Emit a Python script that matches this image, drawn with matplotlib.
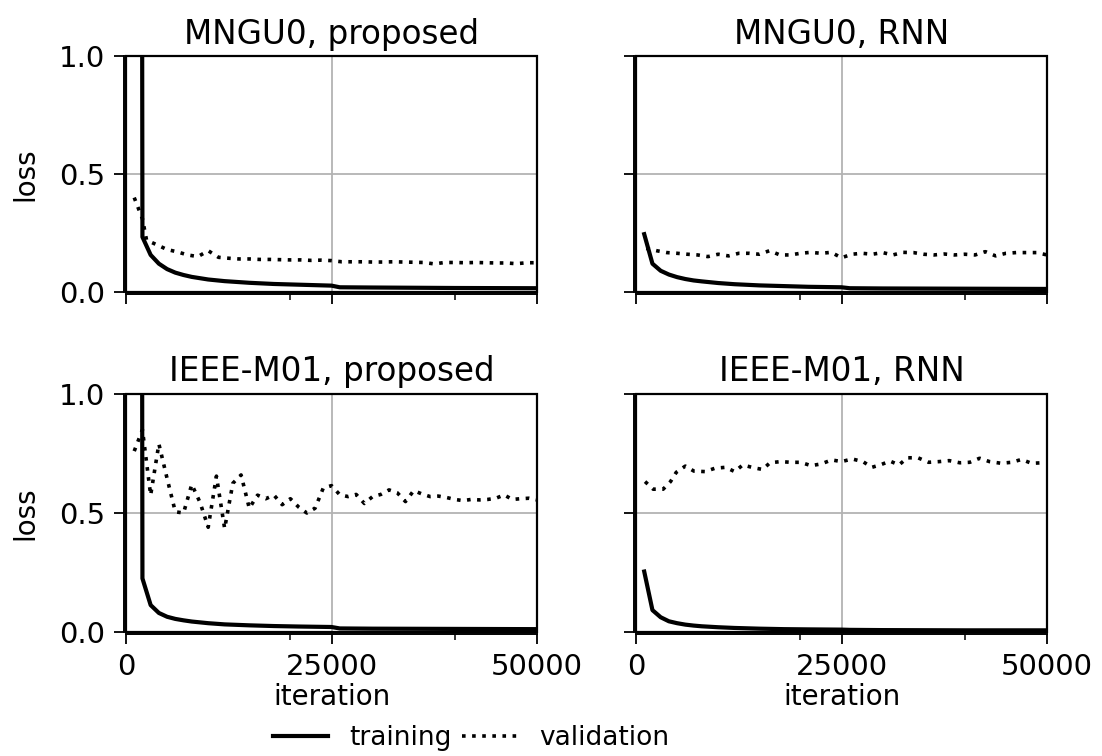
import matplotlib
matplotlib.use("Agg")
import matplotlib.pyplot as plt
from matplotlib.patches import Rectangle
from matplotlib.lines import Line2D

plt.rcParams['font.family'] = ['DejaVu Sans']

# training loss
train_it = [1000, 2000, 3000, 4000, 5000, 6000, 7000, 8000, 10000, 12000,
            15000, 18000, 21000, 25000, 26000, 30000, 40000, 50000]
mngu_prop_tr = [25.0, 0.233, 0.157, 0.12, 0.097, 0.082, 0.072, 0.064, 0.053, 0.046,
                0.039, 0.034, 0.031, 0.027, 0.020, 0.019, 0.017, 0.016]
mngu_rnn_tr = [0.245, 0.12, 0.09, 0.074, 0.063, 0.055, 0.049, 0.045, 0.038, 0.033,
               0.028, 0.025, 0.022, 0.020, 0.016, 0.015, 0.014, 0.013]
ieee_prop_tr = [25.0, 0.225, 0.113, 0.08, 0.064, 0.055, 0.049, 0.044, 0.037, 0.032,
                0.028, 0.025, 0.023, 0.021, 0.015, 0.014, 0.013, 0.012]
ieee_rnn_tr = [0.254, 0.092, 0.062, 0.045, 0.037, 0.031, 0.027, 0.024, 0.020, 0.017,
               0.014, 0.012, 0.011, 0.010, 0.009, 0.008, 0.007, 0.007]

# validation loss
val_it_1250 = [1000, 2000, 2500, 3750, 5000, 6250, 7500, 8750, 10000, 11250,
               12500, 13750, 15000, 16250, 17500, 18750, 20000, 21250, 22500, 23750,
               25000, 26250, 27500, 28750, 30000, 31250, 32500, 33750, 35000, 36250,
               37500, 38750, 40000, 41250, 42500, 43750, 45000, 46250, 47500, 48750, 50000]
mngu_prop_val = [0.40, 0.31, 0.22, 0.20, 0.18, 0.17, 0.157, 0.15, 0.175, 0.147,
                 0.143, 0.14, 0.14, 0.138, 0.138, 0.137, 0.136, 0.136, 0.134, 0.135,
                 0.133, 0.128, 0.128, 0.128, 0.127, 0.127, 0.128, 0.127, 0.126, 0.125,
                 0.119, 0.125, 0.125, 0.124, 0.125, 0.124, 0.123, 0.123, 0.12, 0.124, 0.124]

val_it_rnn = [1250, 2500, 3750, 5000, 6250, 7500, 8750, 10000, 11250, 12500,
              13750, 15000, 16250, 17500, 18750, 20000, 21250, 22500, 23750, 25000,
              26250, 27500, 28750, 30000, 31250, 32500, 33750, 35000, 36250, 37500,
              38750, 40000, 41250, 42500, 43750, 45000, 46250, 47500, 48750, 50000]
mngu_rnn_val = [0.185, 0.175, 0.167, 0.164, 0.16, 0.157, 0.15, 0.16, 0.153, 0.164,
                0.164, 0.16, 0.175, 0.157, 0.157, 0.164, 0.168, 0.164, 0.168, 0.145,
                0.16, 0.164, 0.16, 0.167, 0.157, 0.168, 0.167, 0.16, 0.157, 0.161,
                0.157, 0.16, 0.157, 0.171, 0.153, 0.164, 0.167, 0.167, 0.167, 0.157]

val_it_1000 = list(range(1000, 50001, 1000))
ieee_prop_val = [0.76, 0.85, 0.575, 0.79, 0.645, 0.505, 0.50, 0.62, 0.545, 0.44,
                 0.655, 0.435, 0.625, 0.66, 0.52, 0.575, 0.56, 0.575, 0.535, 0.56,
                 0.525, 0.50, 0.52, 0.605, 0.615, 0.577, 0.569, 0.578, 0.54, 0.569,
                 0.578, 0.597, 0.585, 0.548, 0.594, 0.58, 0.569, 0.571, 0.565, 0.557,
                 0.552, 0.557, 0.555, 0.557, 0.562, 0.576, 0.557, 0.56, 0.562, 0.555]

val_it_ieee_rnn = [1100, 2100, 3300, 4200, 4900, 6000, 7050, 8400, 9600, 10900,
                   12000, 13000, 14300, 15400, 16300, 17600, 18800, 20000, 21300, 22500,
                   23800, 25000, 26300, 27600, 28700, 29700, 30900, 32000, 33000, 34300,
                   35600, 36900, 38100, 39400, 40600, 41800, 43000, 44400, 45700, 46900,
                   48100, 49500]
ieee_rnn_val = [0.632, 0.60, 0.60, 0.632, 0.671, 0.697, 0.676, 0.674, 0.688, 0.692,
                0.674, 0.702, 0.69, 0.683, 0.711, 0.716, 0.713, 0.713, 0.699, 0.706,
                0.723, 0.716, 0.727, 0.716, 0.692, 0.702, 0.718, 0.702, 0.732, 0.732,
                0.713, 0.716, 0.72, 0.711, 0.713, 0.73, 0.716, 0.709, 0.713, 0.725,
                0.709, 0.711]

panels = [
    ("MNGU0, proposed", train_it, mngu_prop_tr, val_it_1250, mngu_prop_val),
    ("MNGU0, RNN", train_it, mngu_rnn_tr, val_it_rnn, mngu_rnn_val),
    ("IEEE-M01, proposed", train_it, ieee_prop_tr, val_it_1000, ieee_prop_val),
    ("IEEE-M01, RNN", train_it, ieee_rnn_tr, val_it_ieee_rnn, ieee_rnn_val),
]

W, H = 1102, 756
fig = plt.figure(figsize=(W / 100, H / 100), dpi=100)

# axes boxes in pixels: left, top, right, bottom
boxes = [(126, 56, 537, 292), (636, 56, 1047, 292),
         (126, 394, 537, 632), (636, 394, 1047, 632)]

dots = (0, (1, 1.8))
for i, (title, tx, ty, vx, vy) in enumerate(panels):
    l, t, r, b = boxes[i]
    ax = fig.add_axes([l / W, 1 - b / H, (r - l) / W, (b - t) / H])
    ax.plot(vx, vy, color='black', lw=2.6, linestyle=dots, zorder=3)
    ax.plot(tx, ty, color='black', lw=3.0, zorder=4)
    ax.set_xlim(0, 50000)
    ax.set_ylim(0, 1.0)
    ax.set_xticks([0, 25000, 50000])
    ax.set_xticks([20000, 40000], minor=True)
    ax.set_yticks([0, 0.5, 1.0])
    ax.grid(True, which='major', color='#b3b3b3', lw=1.3, zorder=0)
    ax.set_title(title, fontsize=23.5, pad=9)

    # outer axis lines sit just outside the box
    ax.spines['left'].set_position(('outward', 1.3))
    ax.spines['bottom'].set_position(('outward', 1.3))
    for s in ax.spines.values():
        s.set_linewidth(1.4)
    ax.add_patch(Rectangle((0, 0), 1, 1, transform=ax.transAxes, fill=False,
                           lw=1.6, edgecolor='black', clip_on=False, zorder=5))

    ax.tick_params(which='major', direction='out', length=7.5, width=1.3,
                   labelsize=21, pad=6)
    ax.tick_params(which='minor', direction='out', length=4, width=1.1)

    if i % 2 == 0:
        ax.set_yticklabels(["0.0", "0.5", "1.0"])
        ax.set_ylabel("loss", fontsize=20, labelpad=14)
    else:
        ax.set_yticklabels([])
    if i >= 2:
        ax.set_xticklabels(["0", "25000", "50000"])
        ax.set_xlabel("iteration", fontsize=20, labelpad=2)
    else:
        ax.set_xticklabels([])

handles = [Line2D([], [], color='black', lw=3.0),
           Line2D([], [], color='black', lw=2.6, linestyle=dots)]
fig.legend(handles, ["training", "validation"], loc='center',
           bbox_to_anchor=(471 / W, 1 - 738 / H), ncol=2, frameon=False,
           fontsize=19, handlelength=2.1, handletextpad=0.8, columnspacing=0.4,
           borderpad=0, borderaxespad=0)

fig.savefig("out.png", dpi=100)
